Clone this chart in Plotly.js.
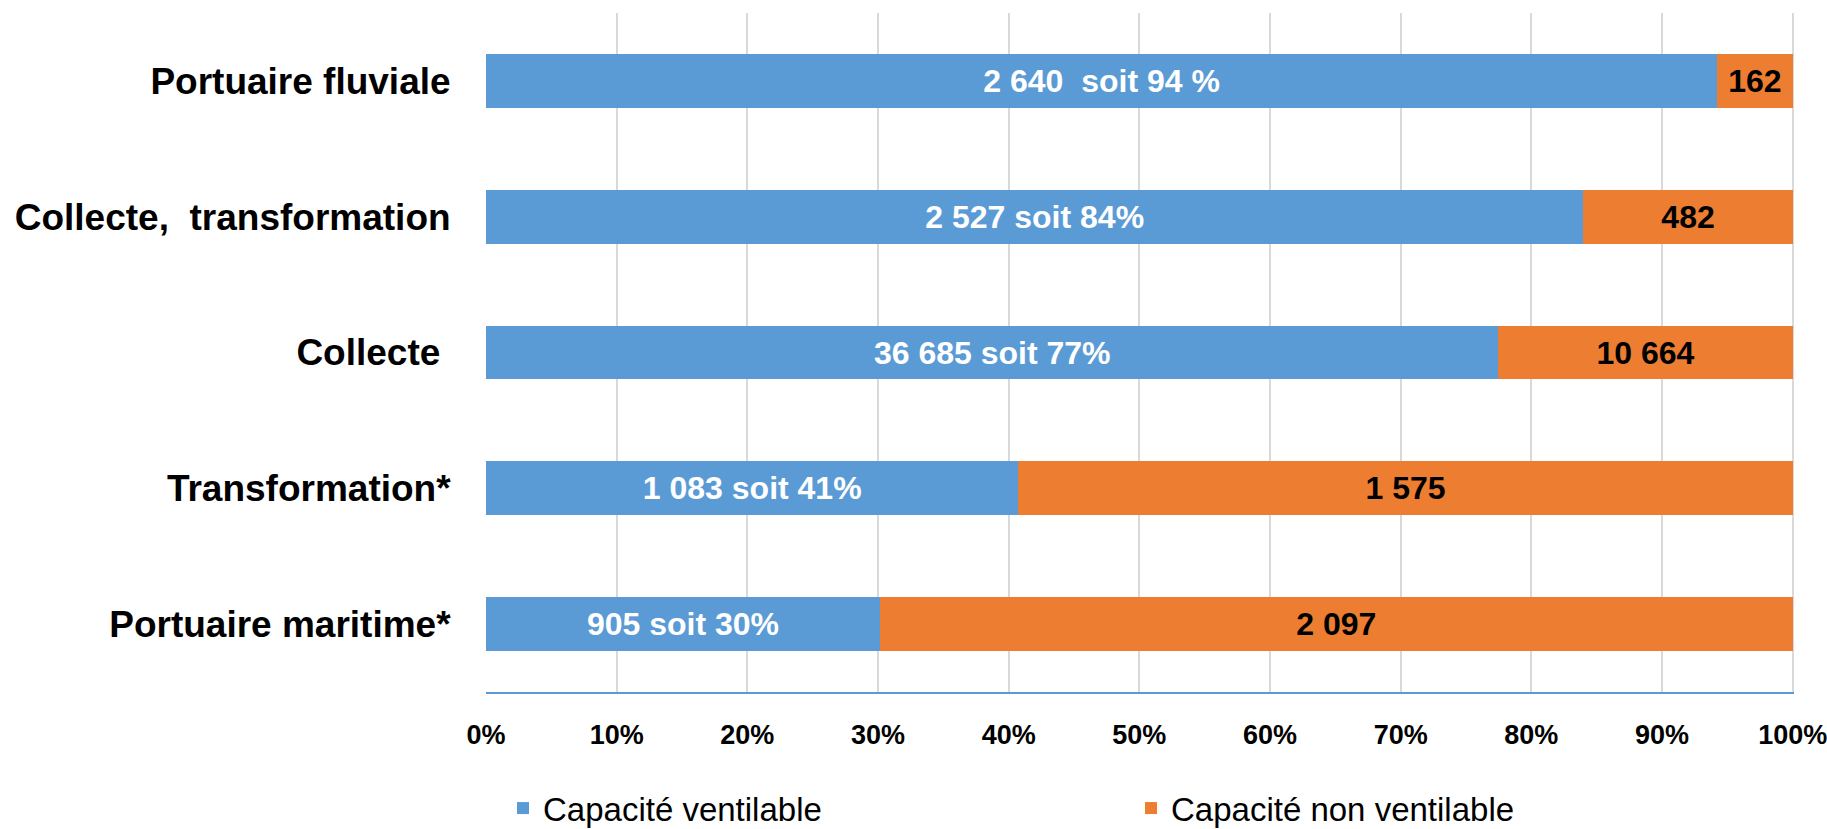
<!DOCTYPE html>
<html>
<head>
<meta charset="utf-8">
<script src="https://cdn.plot.ly/plotly-3.0.1.min.js"></script>
<style>html,body{margin:0;padding:0;background:#fff;}#chart{width:1827px;height:829px;}</style>
</head>
<body>
<div id="chart"></div>
<script>
// Data (top to bottom)
const categories = ['Portuaire fluviale', 'Collecte,\u00a0 transformation', 'Collecte\u00a0', 'Transformation*', 'Portuaire maritime*'];
const ventilable = [2640, 2527, 36685, 1083, 905];
const nonVentilable = [162, 482, 10664, 1575, 2097];
const ventilableLabels = ['2 640\u00a0 soit 94 %', '2 527 soit 84%', '36 685 soit 77%', '1 083 soit 41%', '905 soit 30%'];
const nonVentilableLabels = ['162', '482', '10 664', '1 575', '2 097'];
const seriesNames = ['Capacité ventilable', 'Capacité non ventilable'];
const xTickVals = [0, 10, 20, 30, 40, 50, 60, 70, 80, 90, 100];
const xTickText = ['0%', '10%', '20%', '30%', '40%', '50%', '60%', '70%', '80%', '90%', '100%'];

const FONT = 'Liberation Sans, Arial, sans-serif';

const traces = [
  {
    type: 'bar', orientation: 'h', name: seriesNames[0],
    y: categories, x: ventilable,
    text: ventilableLabels, textposition: 'inside', insidetextanchor: 'middle',
    textangle: 0, constraintext: 'none',
    textfont: {family: FONT, size: 32, color: '#ffffff', weight: 'bold'},
    marker: {color: '#5B9BD5'},
    hoverinfo: 'skip'
  },
  {
    type: 'bar', orientation: 'h', name: seriesNames[1],
    y: categories, x: nonVentilable,
    text: nonVentilableLabels, textposition: 'inside', insidetextanchor: 'middle',
    textangle: 0, constraintext: 'none',
    textfont: {family: FONT, size: 32, color: '#000000', weight: 'bold'},
    marker: {color: '#ED7D31'},
    hoverinfo: 'skip'
  }
];

const layout = {
  width: 1827, height: 829,
  margin: {l: 486, r: 33, t: 13, b: 137, autoexpand: false},
  barmode: 'stack', barnorm: 'percent', bargap: 0.603,
  paper_bgcolor: '#ffffff', plot_bgcolor: '#ffffff',
  font: {family: FONT, color: '#000000'},
  showlegend: true,
  legend: {
    orientation: 'h', x: 0.013, xanchor: 'left', y: -0.171, yanchor: 'middle',
    font: {family: FONT, size: 33, color: '#000000'},
    entrywidth: 583, entrywidthmode: 'pixels',
    traceorder: 'normal'
  },
  xaxis: {
    range: [0, 100.1], tickvals: xTickVals, ticktext: xTickText,
    showgrid: true, gridcolor: '#D9D9D9', gridwidth: 2,
    zeroline: false, showline: true, linecolor: '#5B9BD5', linewidth: 2,
    ticks: 'outside', ticklen: 18, tickcolor: 'rgba(0,0,0,0)',
    ticklabeloverflow: 'allow',
    tickfont: {family: FONT, size: 27, color: '#000000', weight: 'bold'},
    fixedrange: true
  },
  yaxis: {
    type: 'category', autorange: 'reversed',
    showgrid: false, zeroline: false, showline: false,
    ticks: 'outside', ticklen: 27, tickcolor: 'rgba(0,0,0,0)',
    tickfont: {family: FONT, size: 37, color: '#000000', weight: 'bold'},
    fixedrange: true
  }
};

Plotly.newPlot('chart', traces, layout, {displayModeBar: false, staticPlot: true});
</script>
</body>
</html>
